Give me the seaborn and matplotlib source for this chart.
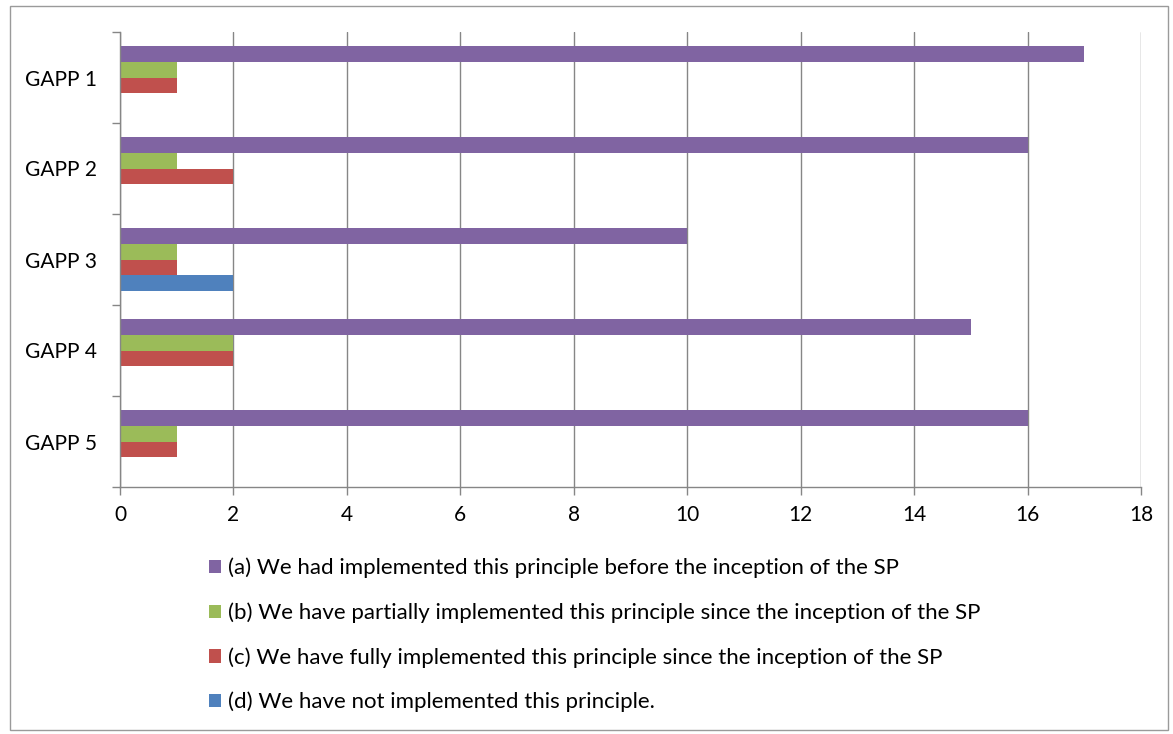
import numpy as np
import pandas as pd
import matplotlib
matplotlib.use("Agg")
import matplotlib.pyplot as plt
from matplotlib.patches import Rectangle, Patch
import seaborn as sns

# data
categories = ["GAPP 1", "GAPP 2", "GAPP 3", "GAPP 4", "GAPP 5"]
series_labels = [
    "(a) We had implemented this principle before the inception of the SP",
    "(b) We have partially implemented this principle since the inception of the SP",
    "(c) We have fully implemented this principle since the inception of the SP",
    "(d) We have not implemented this principle.",
]
vals_a = [17, 16, 10, 15, 16]
vals_b = [1, 1, 1, 2, 1]
vals_c = [1, 2, 1, 2, 1]
vals_d = [0, 0, 2, 0, 0]
colors = ["#8064A2", "#9BBB59", "#C0504D", "#4F81BD"]
x_ticks = [0, 2, 4, 6, 8, 10, 12, 14, 16, 18]

rows = []
for lab, vals in zip(series_labels, [vals_a, vals_b, vals_c, vals_d]):
    for cat, v in zip(categories, vals):
        rows.append({"cat": cat, "series": lab, "value": v})
df = pd.DataFrame(rows)

sns.set_style("white")
plt.rcParams["font.family"] = ["Lato", "DejaVu Sans"]
plt.rcParams["text.color"] = "black"
fs = 15

fig = plt.figure(figsize=(11.73, 7.34), dpi=100)
ax = fig.add_axes([120 / 1173, 1 - 487 / 734, (1141 - 120) / 1173, (487 - 32) / 734])

sns.barplot(data=df, y="cat", x="value", hue="series", order=categories,
            hue_order=series_labels, palette=colors, orient="h", width=0.7,
            saturation=1, linewidth=0, ax=ax, legend=False)

ax.set_xlim(0, 18)
ax.set_ylim(len(categories) - 0.5, -0.5)
ax.set_xticks(x_ticks)
ax.set_xticklabels([str(t) for t in x_ticks], fontsize=fs, color="black")
ax.set_yticks(range(len(categories)))
ax.set_yticklabels(categories, fontsize=fs, color="black")
ax.set_yticks(np.arange(-0.5, len(categories), 1), minor=True)
ax.tick_params(axis="y", which="major", left=True, length=0, pad=16.5)
ax.tick_params(axis="y", which="minor", left=True, length=6, width=1,
               color="#868686", direction="out")
ax.tick_params(axis="x", which="major", bottom=True, length=6, width=1,
               color="#868686", direction="out", pad=7)
ax.set_xlabel("")
ax.set_ylabel("")
ax.xaxis.grid(True, color="#868686", linewidth=1)
ax.yaxis.grid(False)
ax.set_axisbelow(True)
for s in ["top", "right"]:
    ax.spines[s].set_visible(False)
for s in ["left", "bottom"]:
    ax.spines[s].set_color("#868686")
    ax.spines[s].set_linewidth(1)

handles = [Patch(facecolor=c, edgecolor="none") for c in colors]
fig.legend(handles, series_labels, loc="upper left",
           bbox_to_anchor=(200 / 1173, 1 - 549 / 734), frameon=False,
           fontsize=16, handlelength=0.55, handleheight=0.55,
           handletextpad=0.3, labelspacing=1.08, borderaxespad=0)

fig.patches.append(Rectangle((10 / 1173, 4 / 734), 1158 / 1173, 724 / 734,
                             transform=fig.transFigure, fill=False,
                             edgecolor="#9a9a9a", linewidth=1))

fig.savefig("out.png", dpi=100)
